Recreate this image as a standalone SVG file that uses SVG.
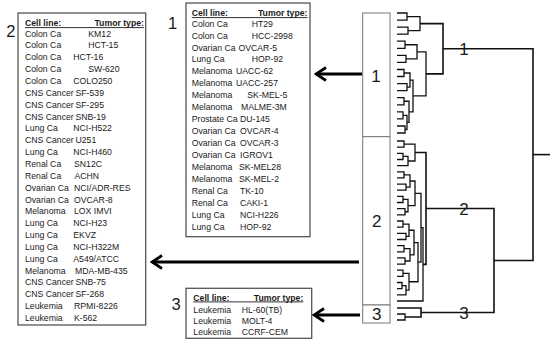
<svg xmlns="http://www.w3.org/2000/svg" width="550" height="346" viewBox="0 0 550 346">
<defs>
<style>
text{font-family:"Liberation Sans",Arial,sans-serif;fill:#1a1a1a}
.t{font-size:8.7px}
.h{font-size:8.7px;font-weight:bold}
.ul{stroke:#1a1a1a;stroke-width:0.9}
.box{fill:#fff;stroke:#555;stroke-width:1.3}
.col{fill:#fff;stroke:#777;stroke-width:1}
.big{font-size:16.5px;text-anchor:middle}
.cl{font-size:17px;text-anchor:middle}
.dl{font-size:17px;text-anchor:middle}
.tree path{fill:none;stroke:#111;stroke-width:1.3}
.tree .top{stroke-width:1.6}
.arr{stroke:#000;stroke-width:2.8;fill:none}
</style>
<marker id="ah" markerUnits="userSpaceOnUse" viewBox="-12 -8 14 16" refX="0" refY="0" markerWidth="14" markerHeight="16" orient="auto">
<path d="M-10,-6.5 L0,0 L-10,6.5" fill="none" stroke="#000" stroke-width="2.8"/>
</marker>
</defs>
<rect width="550" height="346" fill="#fff"/>

<g id="box2">
<text class="big" x="10.8" y="36.5">2</text>
<rect class="box" x="18" y="13" width="127.7" height="312"/>
<text class="h" x="25" y="26.2">Cell line:</text>
<text class="h" x="144" y="26.2" text-anchor="end">Tumor type:</text>
<line class="ul" x1="25" y1="27.6" x2="144" y2="27.6"/>
<text class="t" x="25" y="36.6">Colon Ca</text><text class="t" x="88.3" y="36.6">KM12</text>
<text class="t" x="25" y="48.45">Colon Ca</text><text class="t" x="88.3" y="48.45">HCT-15</text>
<text class="t" x="25" y="60.3">Colon Ca</text><text class="t" x="73.3" y="60.3">HCT-16</text>
<text class="t" x="25" y="72.15">Colon Ca</text><text class="t" x="88.3" y="72.15">SW-620</text>
<text class="t" x="25" y="84">Colon Ca</text><text class="t" x="73.3" y="84">COLO250</text>
<text class="t" x="25" y="95.85">CNS Cancer</text><text class="t" x="75.5" y="95.85">SF-539</text>
<text class="t" x="25" y="107.7">CNS Cancer</text><text class="t" x="75.5" y="107.7">SF-295</text>
<text class="t" x="25" y="119.55">CNS Cancer</text><text class="t" x="75.5" y="119.55">SNB-19</text>
<text class="t" x="25" y="131.4">Lung Ca</text><text class="t" x="73.3" y="131.4">NCI-H522</text>
<text class="t" x="25" y="143.25">CNS Cancer</text><text class="t" x="75.5" y="143.25">U251</text>
<text class="t" x="25" y="155.1">Lung Ca</text><text class="t" x="73.3" y="155.1">NCI-H460</text>
<text class="t" x="25" y="166.95">Renal Ca</text><text class="t" x="74" y="166.95">SN12C</text>
<text class="t" x="25" y="178.8">Renal Ca</text><text class="t" x="74.5" y="178.8">ACHN</text>
<text class="t" x="25" y="190.65">Ovarian Ca</text><text class="t" x="74" y="190.65">NCI/ADR-RES</text>
<text class="t" x="25" y="202.5">Ovarian Ca</text><text class="t" x="74" y="202.5">OVCAR-8</text>
<text class="t" x="25" y="214.35">Melanoma</text><text class="t" x="74" y="214.35">LOX IMVI</text>
<text class="t" x="25" y="226.2">Lung Ca</text><text class="t" x="73.3" y="226.2">NCI-H23</text>
<text class="t" x="25" y="238.05">Lung Ca</text><text class="t" x="73.3" y="238.05">EKVZ</text>
<text class="t" x="25" y="249.9">Lung Ca</text><text class="t" x="73.3" y="249.9">NCI-H322M</text>
<text class="t" x="25" y="261.75">Lung Ca</text><text class="t" x="73.3" y="261.75">A549/ATCC</text>
<text class="t" x="25" y="273.6">Melanoma</text><text class="t" x="75" y="273.6">MDA-MB-435</text>
<text class="t" x="25" y="285.45">CNS Cancer</text><text class="t" x="75.5" y="285.45">SNB-75</text>
<text class="t" x="25" y="297.3">CNS Cancer</text><text class="t" x="75.5" y="297.3">SF-268</text>
<text class="t" x="25" y="309.15">Leukemia</text><text class="t" x="74" y="309.15">RPMI-8226</text>
<text class="t" x="25" y="321">Leukemia</text><text class="t" x="74" y="321">K-562</text>
</g>

<g id="box1">
<text class="big" x="172.5" y="28.5">1</text>
<rect class="box" x="186" y="3" width="124" height="233.7"/>
<text class="h" x="191.7" y="16.2">Cell line:</text>
<text class="h" x="307.5" y="16.2" text-anchor="end">Tumor type:</text>
<line class="ul" x1="191.7" y1="17.6" x2="307.5" y2="17.6"/>
<text class="t" x="191.7" y="26.6">Colon Ca</text><text class="t" x="251.7" y="26.6">HT29</text>
<text class="t" x="191.7" y="38.55">Colon Ca</text><text class="t" x="251.7" y="38.55">HCC-2998</text>
<text class="t" x="191.7" y="50.5">Ovarian Ca</text><text class="t" x="238.5" y="50.5">OVCAR-5</text>
<text class="t" x="191.7" y="62.45">Lung Ca</text><text class="t" x="251.7" y="62.45">HOP-92</text>
<text class="t" x="191.7" y="74.4">Melanoma</text><text class="t" x="236" y="74.4">UACC-62</text>
<text class="t" x="191.7" y="86.35">Melanoma</text><text class="t" x="236" y="86.35">UACC-257</text>
<text class="t" x="191.7" y="98.3">Melanoma</text><text class="t" x="247.3" y="98.3">SK-MEL-5</text>
<text class="t" x="191.7" y="110.25">Melanoma</text><text class="t" x="241" y="110.25">MALME-3M</text>
<text class="t" x="191.7" y="122.2">Prostate Ca</text><text class="t" x="240" y="122.2">DU-145</text>
<text class="t" x="191.7" y="134.15">Ovarian Ca</text><text class="t" x="240" y="134.15">OVCAR-4</text>
<text class="t" x="191.7" y="146.1">Ovarian Ca</text><text class="t" x="240" y="146.1">OVCAR-3</text>
<text class="t" x="191.7" y="158.05">Ovarian Ca</text><text class="t" x="240" y="158.05">IGROV1</text>
<text class="t" x="191.7" y="170">Melanoma</text><text class="t" x="239" y="170">SK-MEL28</text>
<text class="t" x="191.7" y="181.95">Melanoma</text><text class="t" x="239" y="181.95">SK-MEL-2</text>
<text class="t" x="191.7" y="193.9">Renal Ca</text><text class="t" x="240" y="193.9">TK-10</text>
<text class="t" x="191.7" y="205.85">Renal Ca</text><text class="t" x="240" y="205.85">CAKI-1</text>
<text class="t" x="191.7" y="217.8">Lung Ca</text><text class="t" x="240" y="217.8">NCI-H226</text>
<text class="t" x="191.7" y="229.75">Lung Ca</text><text class="t" x="240" y="229.75">HOP-92</text>
</g>

<g id="box3">
<text class="big" x="176" y="309.5">3</text>
<rect class="box" x="186" y="288.3" width="125.7" height="50"/>
<text class="h" x="193.3" y="300.5">Cell line:</text>
<text class="h" x="303.3" y="300.5" text-anchor="end">Tumor type:</text>
<line class="ul" x1="193.3" y1="301.9" x2="303.3" y2="301.9"/>
<text class="t" x="193.3" y="313.1">Leukemia</text><text class="t" x="241.7" y="313.1">HL-60(TB)</text>
<text class="t" x="193.3" y="324.1">Leukemia</text><text class="t" x="241.7" y="324.1">MOLT-4</text>
<text class="t" x="193.3" y="334.8">Leukemia</text><text class="t" x="241.7" y="334.8">CCRF-CEM</text>
</g>

<g id="cluster1">
<rect class="col" x="362.7" y="13" width="27.3" height="123.7"/>
<text class="cl" x="376" y="82">1</text>
</g>
<g id="cluster2">
<rect class="col" x="362.7" y="136.7" width="27.3" height="168.3"/>
<text class="cl" x="376.7" y="227.2">2</text>
</g>
<g id="cluster3">
<rect class="col" x="362.7" y="305" width="27.3" height="18"/>
<text class="cl" x="376.7" y="320.2">3</text>
</g>

<g id="dendrogram" class="tree">
<path d="M397 13H407V20.1H397"/>
<path d="M397 27.1H408V34.2H397"/>
<path d="M407 16.55H420V30.65H408"/>
<path d="M397 41.2H405V48.3H397"/>
<path d="M397 55.4H406V62.4H397"/>
<path d="M405 44.75H417V58.9H406"/>
<path d="M397 69.5H404V76.5H397"/>
<path d="M397 83.6H407V90.7H397"/>
<path d="M404 73H410V87.15H407"/>
<path d="M397 97.7H404V104.8H397"/>
<path d="M397 111.8H403V118.9H397"/>
<path d="M397 126H405V133H397"/>
<path d="M403 115.35H407V129.5H405"/>
<path d="M404 101.25H409V122.4H407"/>
<path d="M410 80.1H413V111.8H409"/>
<path d="M417 51.8H426V95.95H413"/>
<path class="top" d="M420 23.6H443V73.9H426"/>
<path d="M397 141H404V147.2H397"/>
<path d="M397 153.3H403V159.5H397"/>
<path d="M403 156.4H408V165.6H397"/>
<path d="M404 144.1H415V161H408"/>
<path d="M397 171.8H404V177.9H397"/>
<path d="M397 184.1H406V190.2H397"/>
<path d="M404 174.85H410V187.15H406"/>
<path d="M397 196.4H403V202.5H397"/>
<path d="M397 208.7H405V214.8H397"/>
<path d="M403 199.45H408V211.75H405"/>
<path d="M410 181H415V205.6H408"/>
<path d="M397 221H403V227.2H397"/>
<path d="M397 233.3H406V239.5H397"/>
<path d="M403 224.1H409V236.4H406"/>
<path d="M397 245.6H404V251.8H397"/>
<path d="M397 257.9H405V264.1H397"/>
<path d="M404 248.7H410V261H405"/>
<path d="M409 230.25H414V254.85H410"/>
<path d="M397 270.2H403V276.4H397"/>
<path d="M397 282.5H402V288.7H397"/>
<path d="M402 285.6H406V294.8H397"/>
<path d="M403 273.3H409V290.2H406"/>
<path d="M414 242.55H418V281.75H409"/>
<path d="M415 193.3H421V262.15H418"/>
<path d="M421 227.7H423V301H397"/>
<path class="top" d="M415 152.55H426V264.35H423"/>
<path d="M397 314H405V320H397"/>
<path class="top" d="M397 308H421V317H405"/>
<path class="top" d="M426 208.45H494V312.5H421"/>
<path class="top" d="M443 48.75H533V260.5H494"/>
<path class="top" d="M533 154.6H550"/>
<text class="dl" x="464" y="54.8">1</text>
<text class="dl" x="464" y="214.5">2</text>
<text class="dl" x="464" y="318.6">3</text>
</g>

<g id="connectors">
<line class="arr" x1="362" y1="74" x2="316" y2="74" marker-end="url(#ah)"/>
<line class="arr" x1="359" y1="262" x2="152" y2="262" marker-end="url(#ah)"/>
<line class="arr" x1="360" y1="315" x2="314" y2="315" marker-end="url(#ah)"/>
</g>
</svg>
